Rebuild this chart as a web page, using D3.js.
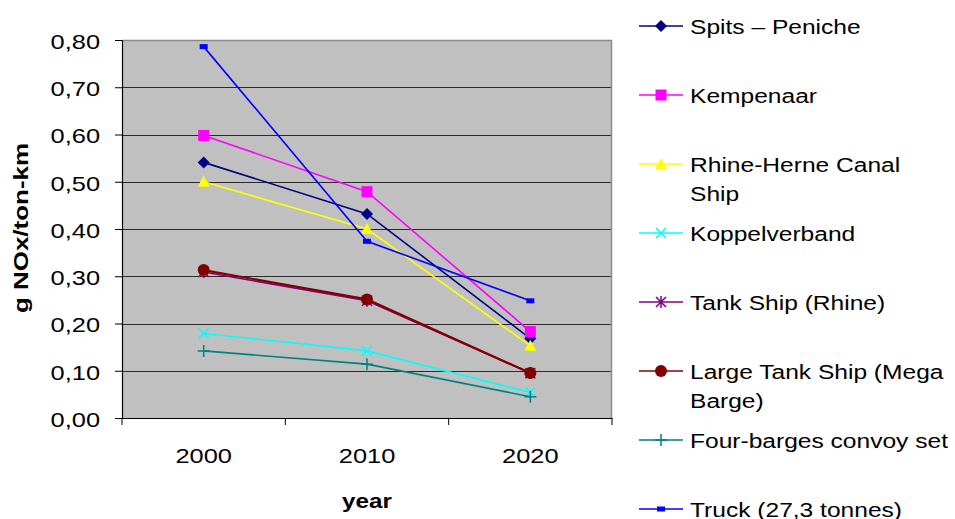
<!DOCTYPE html>
<html><head><meta charset="utf-8">
<script src="https://cdn.jsdelivr.net/npm/d3@7"></script>
<style>body{margin:0;background:#fff}svg{display:block;font-family:"Liberation Sans",Arial,sans-serif}</style>
</head><body><svg id="c" width="955" height="519"></svg>
<script>
const years = ["2000", "2010", "2020"];
const yTicks = [0, 0.1, 0.2, 0.3, 0.4, 0.5, 0.6, 0.7, 0.8];
const seriesNames = ["Spits – Peniche", "Kempenaar", "Rhine-Herne Canal Ship", "Koppelverband", "Tank Ship (Rhine)", "Large Tank Ship (Mega Barge)", "Four-barges convoy set", "Truck (27,3 tonnes)"];
const spits = [0.541, 0.432, 0.168];
const kempenaar = [0.598, 0.479, 0.183];
const rhineHerne = [0.500, 0.400, 0.153];
const koppelverband = [0.179, 0.142, 0.054];
const tankShip = [0.309, 0.248, 0.095];
const largeTank = [0.313, 0.251, 0.095];
const fourBarges = [0.142, 0.114, 0.045];
const truck = [0.786, 0.374, 0.248];
const seriesValues = [spits, kempenaar, rhineHerne, koppelverband, tankShip, largeTank, fourBarges, truck];
const colors = ["#000080", "#FF00FF", "#FFFF00", "#00FFFF", "#800080", "#800000", "#008080", "#0000FF"];
const markers = ["diamond", "square", "triangle", "x", "star", "circle", "plus", "rect"];
const legendLines = [["Spits – Peniche"], ["Kempenaar"], ["Rhine-Herne Canal", "Ship"], ["Koppelverband"], ["Tank Ship (Rhine)"], ["Large Tank Ship (Mega", "Barge)"], ["Four-barges convoy set"], ["Truck (27,3 tonnes)"]];

const SX = 1.21; // horizontal stretch of the text in the reference
const LSX = 1.17;
const svg = d3.select("#c");
const L = 122, R = 612, T = 40, B = 418;
const x = d3.scaleBand().domain(years).range([L, R]);
const y = d3.scaleLinear().domain([0, 0.8]).range([B, T]);
const fmt = v => d3.format(".2f")(v).replace(".", ",");

svg.append("rect").attr("x", L).attr("y", T).attr("width", R - L).attr("height", B - T).attr("fill", "#C0C0C0");
// gridlines
svg.append("g").selectAll("line").data(yTicks.filter(v => v > 0 && v < 0.8)).join("line")
  .attr("x1", L).attr("x2", R).attr("y1", d => Math.round(y(d)) + 0.5).attr("y2", d => Math.round(y(d)) + 0.5)
  .attr("stroke", "#2a2a2a").attr("stroke-width", 1.2);
// border top/right
svg.append("path").attr("d", `M${L},${T + 0.5}H${R - 0.5}V${B}`).attr("fill", "none").attr("stroke", "#8c8c8c").attr("stroke-width", 1.5);

// y axis
const yAxis = d3.axisLeft(y).tickValues(yTicks).tickFormat(fmt).tickSize(7).tickPadding(8);
const gy = svg.append("g").attr("transform", `translate(${L},0)`).call(yAxis);
gy.select(".domain").attr("stroke", "#000").attr("stroke-width", 1.2);
gy.selectAll(".tick line").attr("stroke", "#000");
gy.selectAll(".tick text").attr("font-size", 21).attr("fill", "#000").attr("font-family", "'Liberation Sans', Arial, sans-serif")
  .attr("x", -22 / SX).attr("dy", "0.4em").attr("transform", `scale(${SX},1)`);

// x axis
const xAxis = d3.axisBottom(x).tickSize(0).tickPadding(0);
const gx = svg.append("g").attr("transform", `translate(0,${B})`).call(xAxis);
gx.select(".domain").attr("stroke", "#000").attr("stroke-width", 1.2);
gx.selectAll(".tick text").attr("font-size", 21).attr("fill", "#000").attr("font-family", "'Liberation Sans', Arial, sans-serif")
  .attr("y", 45).attr("dy", 0).attr("transform", `scale(${SX},1)`);
svg.append("g").selectAll("line").data(years.map(d => x(d)).concat([R])).join("line")
  .attr("x1", d => d).attr("x2", d => d).attr("y1", B).attr("y2", B + 7).attr("stroke", "#000");

// axis titles
svg.append("text").attr("transform", `translate(28,${228}) rotate(-90)`).attr("text-anchor", "middle")
  .attr("font-size", 21).attr("font-weight", "bold").attr("textLength", 170).attr("lengthAdjust", "spacingAndGlyphs").text("g NOx/ton-km");
svg.append("text").attr("transform", `translate(${(L + R) / 2},508) scale(${SX},1)`).attr("text-anchor", "middle")
  .attr("font-size", 20).attr("font-weight", "bold").text("year");

function drawMarker(g, type, color) {
  switch (type) {
    case "diamond": g.append("path").attr("d", "M0,-6L6,0L0,6L-6,0Z").attr("fill", color); break;
    case "square": g.append("rect").attr("x", -5.5).attr("y", -5.5).attr("width", 11).attr("height", 11).attr("fill", color); break;
    case "triangle": g.append("path").attr("d", "M0,-6L6,5L-6,5Z").attr("fill", color); break;
    case "x": g.append("path").attr("d", "M-5,-5L5,5M-5,5L5,-5").attr("stroke", color).attr("stroke-width", 1.5); break;
    case "star": g.append("path").attr("d", "M-5,-5L5,5M-5,5L5,-5M0,-6V6").attr("stroke", color).attr("stroke-width", 1.5); break;
    case "circle": g.append("circle").attr("r", 6).attr("fill", color); break;
    case "plus": g.append("path").attr("d", "M-6,0H6M0,-6V6").attr("stroke", color).attr("stroke-width", 1.5); break;
    case "rect": g.append("rect").attr("x", -4).attr("y", -2.5).attr("width", 8).attr("height", 5).attr("fill", color); break;
  }
}

const line = d3.line().x((d, i) => x(years[i]) + x.bandwidth() / 2).y(d => y(d));
const plot = svg.append("g");
seriesValues.forEach((vals, si) => {
  plot.append("path").attr("d", line(vals)).attr("fill", "none").attr("stroke", colors[si])
    .attr("stroke-width", si === 5 ? 2.2 : 1.6);
  vals.forEach((v, i) => {
    const g = plot.append("g").attr("transform", `translate(${x(years[i]) + x.bandwidth() / 2},${y(v)})`);
    drawMarker(g, markers[si], colors[si]);
  });
});

// legend
const legend = svg.append("g");
seriesNames.forEach((name, i) => {
  const ly = 26 + i * 69;
  const g = legend.append("g").attr("transform", `translate(0,${ly})`);
  g.append("line").attr("x1", 639).attr("x2", 683).attr("y1", 0).attr("y2", 0).attr("stroke", colors[i]).attr("stroke-width", 1.6);
  const mg = g.append("g").attr("transform", "translate(661,0)");
  drawMarker(mg, markers[i], colors[i]);
  const t = g.append("text").attr("transform", `translate(690,7.5) scale(${LSX},1)`).attr("font-size", 21).attr("fill", "#000");
  legendLines[i].forEach((ln, k) => t.append("tspan").attr("x", 0).attr("dy", k === 0 ? 0 : 29.5).text(ln));
});
</script></body></html>
